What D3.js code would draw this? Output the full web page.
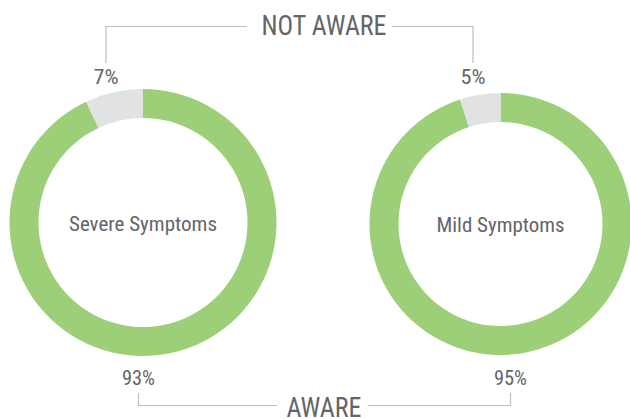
<!DOCTYPE html>
<html>
<head>
<meta charset="utf-8">
<script src="https://cdn.jsdelivr.net/npm/d3@7"></script>
<style>
  html, body { margin: 0; padding: 0; background: #fff; }
  svg { display: block; }
  text { font-family: "Roboto Condensed", Roboto, "Liberation Sans Narrow", sans-serif; fill: #646568; }
</style>
</head>
<body>
<svg id="chart" width="630" height="419"></svg>
<script>
// Awareness by symptom group (percent)
const groups = ["Severe Symptoms", "Mild Symptoms"];
const awareValues = [93, 95];
const notAwareValues = [7, 5];
const bracketLabels = ["NOT AWARE", "AWARE"];

const colors = { aware: "#9dcf79", notAware: "#e1e2e4", line: "#bdbec0" };

const svg = d3.select("#chart");

// donut layout
const centers = [{ x: 143, y: 222.5, r: 133.5 }, { x: 500.5, y: 224, r: 131 }];
const ring = 29;

// narrow-type helper: draw text and squeeze it to a target width
function label(g, str, x, y, size, width, anchor = "middle") {
  const t = g.append("text")
    .attr("x", x).attr("y", y)
    .attr("text-anchor", anchor)
    .style("font-size", size + "px")
    .text(str);
  if (width) t.attr("textLength", width).attr("lengthAdjust", "spacingAndGlyphs");
  return t;
}

const pie = d3.pie().sort(null).value(d => d.value)
  .startAngle(0).endAngle(2 * Math.PI);

groups.forEach((name, i) => {
  const c = centers[i];
  const g = svg.append("g").attr("transform", `translate(${c.x},${c.y})`);
  const data = [
    { key: "aware", value: awareValues[i] },
    { key: "notAware", value: notAwareValues[i] }
  ];
  const arc = d3.arc().innerRadius(c.r - ring).outerRadius(c.r);
  g.selectAll("path").data(pie(data)).join("path")
    .attr("d", arc)
    .attr("fill", d => colors[d.data.key]);
  label(g, name, 0, 8, 20.5, [148, 128][i]);
});

// percent labels
const pctLayout = [
  { top: 106, bottom: 138.5 },
  { top: 473, bottom: 510.5 }
];
groups.forEach((name, i) => {
  label(svg, notAwareValues[i] + "%", pctLayout[i].top, 84, 20, 25);
  label(svg, awareValues[i] + "%", pctLayout[i].bottom, 385, 20, 33);
});

// brackets
const lineG = svg.append("g")
  .attr("fill", "none")
  .attr("stroke", colors.line)
  .attr("stroke-width", 1.2);

// NOT AWARE bracket (top)
const topY = 26.5;
lineG.append("path").attr("d", `M${pctLayout[0].top},63 V${topY} H247`);
lineG.append("path").attr("d", `M392,${topY} H${pctLayout[1].top} V63`);
label(svg, bracketLabels[0], 324, 35, 27, 125);

// AWARE bracket (bottom)
const botY = 405.5;
lineG.append("path").attr("d", `M${pctLayout[0].bottom},393 V${botY} H277`);
lineG.append("path").attr("d", `M368,${botY} H${pctLayout[1].bottom} V393`);
label(svg, bracketLabels[1], 324, 417, 27, 75);
</script>
</body>
</html>
